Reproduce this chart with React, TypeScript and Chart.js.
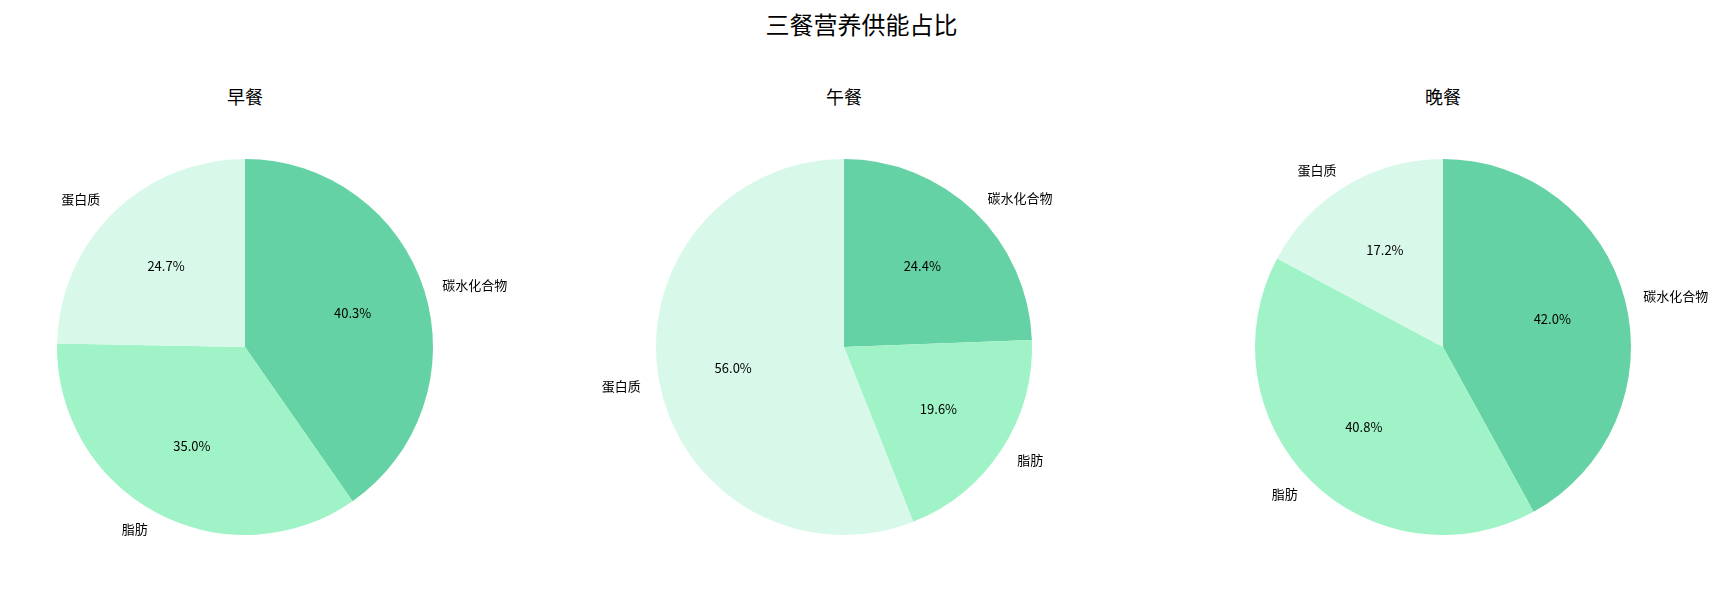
import { useEffect, useRef } from "react";
import { Chart, registerables } from "chart.js";
Chart.register(...registerables);

const mainTitle = "三餐营养供能占比";
const meals = ["早餐", "午餐", "晚餐"];
const nutrients = ["碳水化合物", "脂肪", "蛋白质"];
const breakfast = [40.3, 35.0, 24.7];
const lunch = [24.4, 19.6, 56.0];
const dinner = [42.0, 40.8, 17.2];
const sliceColors = ["#64d2a4", "#9ff3c6", "#d8f9e9"];

const mealValues = [breakfast, lunch, dinner];
const centersX = [245, 844, 1443];
const FONT = "'Noto Sans CJK SC', 'Noto Sans', sans-serif";

// matplotlib-like labels: names at 1.1r, percentages at 0.6r
const pieLabels = {
  id: "pieLabels",
  afterDatasetsDraw(chart: any) {
    const ctx = chart.ctx;
    const meta = chart.getDatasetMeta(0);
    const data = chart.data.datasets[0].data as number[];
    const total = data.reduce((a, b) => a + b, 0);
    ctx.save();
    ctx.fillStyle = "#000";
    ctx.font = `13px ${FONT}`;
    ctx.textBaseline = "middle";
    meta.data.forEach((arc: any, i: number) => {
      const { x, y, startAngle, endAngle, outerRadius } = arc.getProps(
        ["x", "y", "startAngle", "endAngle", "outerRadius"],
        true
      );
      const mid = (startAngle + endAngle) / 2;
      const c = Math.cos(mid);
      const s = Math.sin(mid);
      ctx.textAlign = c >= 0 ? "left" : "right";
      ctx.fillText(String(chart.data.labels[i]), x + c * outerRadius * 1.1, y + s * outerRadius * 1.1);
      ctx.textAlign = "center";
      ctx.fillText(((data[i] / total) * 100).toFixed(1) + "%", x + c * outerRadius * 0.6, y + s * outerRadius * 0.6);
    });
    ctx.restore();
  },
};

function MealPie({ values, left }: { values: number[]; left: number }) {
  const chartRef = useRef<HTMLCanvasElement>(null);
  const chartInstance = useRef<Chart | null>(null);

  useEffect(() => {
    if (!chartRef.current) return;
    if (chartInstance.current) chartInstance.current.destroy();

    chartInstance.current = new Chart(chartRef.current, {
      type: "pie",
      data: {
        labels: nutrients,
        datasets: [
          {
            data: values,
            backgroundColor: sliceColors,
            borderWidth: 0,
            hoverOffset: 0,
          },
        ],
      },
      options: {
        animation: false,
        responsive: true,
        maintainAspectRatio: false,
        layout: { padding: { top: 159, bottom: 58, left: 0, right: 0 } },
        plugins: {
          legend: { display: false },
          tooltip: { enabled: false },
        },
      },
      plugins: [pieLabels],
    });

    return () => {
      chartInstance.current?.destroy();
      chartInstance.current = null;
    };
  }, [values]);

  return (
    <div style={{ position: "absolute", left, top: 0, width: 560, height: 593 }}>
      <canvas ref={chartRef}></canvas>
    </div>
  );
}

export default function App() {
  return (
    <div
      style={{
        position: "absolute",
        left: 0,
        top: 0,
        width: 1723,
        height: 593,
        overflow: "hidden",
        background: "#fff",
        fontFamily: FONT,
        color: "#000",
      }}
    >
      <div
        style={{
          position: "absolute",
          left: 0,
          top: 8,
          width: 1723,
          height: 32,
          lineHeight: "32px",
          fontSize: 24,
          textAlign: "center",
        }}
      >
        {mainTitle}
      </div>
      {meals.map((meal, i) => (
        <div
          key={meal}
          style={{
            position: "absolute",
            left: centersX[i] - 100,
            top: 84,
            width: 200,
            height: 24,
            lineHeight: "24px",
            fontSize: 18,
            textAlign: "center",
          }}
        >
          {meal}
        </div>
      ))}
      {mealValues.map((vals, i) => (
        <MealPie key={meals[i]} values={vals} left={centersX[i] - 280} />
      ))}
    </div>
  );
}
